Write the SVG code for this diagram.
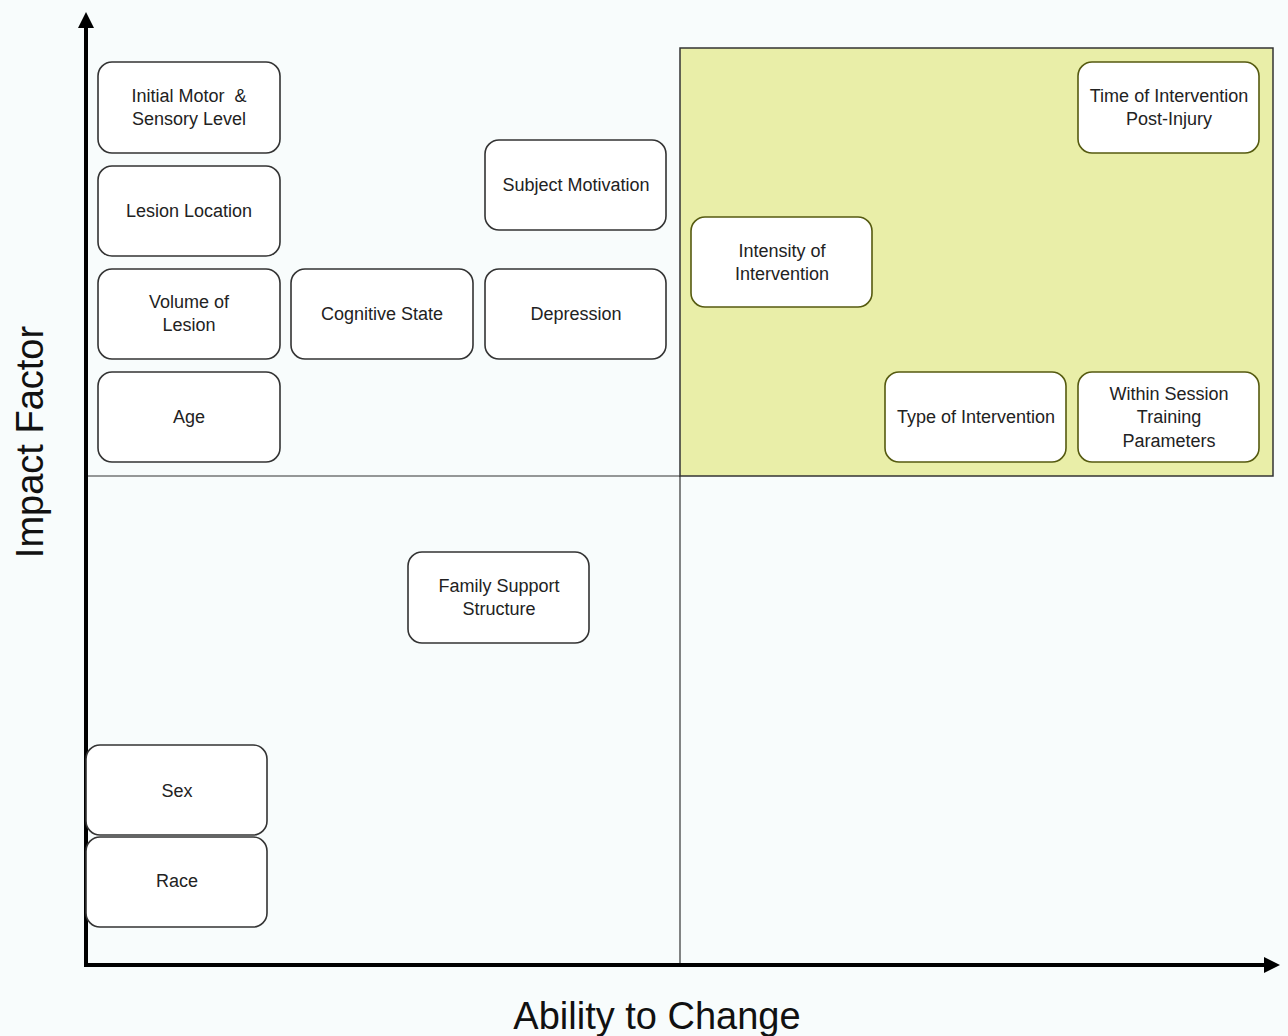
<svg xmlns="http://www.w3.org/2000/svg" width="1288" height="1036" viewBox="0 0 1288 1036">
<style>
.n rect{fill:#ffffff;stroke:#333;stroke-width:1.6}
.y rect{stroke:#555a10}
.n text{font-family:"Liberation Sans",Arial,sans-serif;font-size:18px;fill:#222;text-anchor:middle}
.ax{font-family:"Liberation Sans",Arial,sans-serif;font-size:38px;fill:#111;text-anchor:middle}
</style>
<defs>
<marker id="ah" viewBox="0 0 10 10" refX="5" refY="5" markerWidth="4" markerHeight="4" orient="auto" markerUnits="strokeWidth">
<path d="M0,0 L10,5 L0,10 z" fill="#000"/>
</marker>
</defs>
<rect width="1288" height="1036" fill="#f8fcfc"/>
<rect id="quadrant" x="680" y="48" width="593" height="428" fill="#e9eea8" stroke="#333" stroke-width="1.5"/>
<g id="connectors">
<line x1="86" y1="476" x2="680" y2="476" stroke="#333" stroke-width="1.2"/>
<line x1="680" y1="476" x2="680" y2="965" stroke="#333" stroke-width="1.2"/>
<line x1="86" y1="966" x2="86" y2="20" stroke="#000" stroke-width="4" marker-end="url(#ah)"/>
<line x1="84" y1="965" x2="1272" y2="965" stroke="#000" stroke-width="4" marker-end="url(#ah)"/>
</g>
<g id="n1" class="n"><rect x="98" y="62" width="182" height="91" rx="14"/><text x="189" y="102">Initial Motor&#160; &amp;</text><text x="189" y="125">Sensory Level</text></g>
<g id="n2" class="n"><rect x="98" y="166" width="182" height="90" rx="14"/><text x="189" y="217">Lesion Location</text></g>
<g id="n3" class="n"><rect x="98" y="269" width="182" height="90" rx="14"/><text x="189" y="308">Volume of</text><text x="189" y="331">Lesion</text></g>
<g id="n4" class="n"><rect x="98" y="372" width="182" height="90" rx="14"/><text x="189" y="423">Age</text></g>
<g id="n5" class="n"><rect x="291" y="269" width="182" height="90" rx="14"/><text x="382" y="320">Cognitive State</text></g>
<g id="n6" class="n"><rect x="485" y="140" width="181" height="90" rx="14"/><text x="576" y="191">Subject Motivation</text></g>
<g id="n7" class="n"><rect x="485" y="269" width="181" height="90" rx="14"/><text x="576" y="320">Depression</text></g>
<g id="n8" class="n"><rect x="408" y="552" width="181" height="91" rx="14"/><text x="499" y="592">Family Support</text><text x="499" y="615">Structure</text></g>
<g id="n9" class="n"><rect x="86" y="745" width="181" height="90" rx="14"/><text x="177" y="797">Sex</text></g>
<g id="n10" class="n"><rect x="86" y="837" width="181" height="90" rx="14"/><text x="177" y="887">Race</text></g>
<g id="n11" class="n y"><rect x="691" y="217" width="181" height="90" rx="14"/><text x="782" y="257">Intensity of</text><text x="782" y="280">Intervention</text></g>
<g id="n12" class="n y"><rect x="1078" y="62" width="181" height="91" rx="14"/><text x="1169" y="102">Time of Intervention</text><text x="1169" y="125">Post-Injury</text></g>
<g id="n13" class="n y"><rect x="885" y="372" width="181" height="90" rx="14"/><text x="976" y="423">Type of Intervention</text></g>
<g id="n14" class="n y"><rect x="1078" y="372" width="181" height="90" rx="14"/><text x="1169" y="400">Within Session</text><text x="1169" y="423">Training</text><text x="1169" y="447">Parameters</text></g>
<text class="ax" x="657" y="1029">Ability to Change</text>
<text class="ax" transform="translate(43,442) rotate(-90)">Impact Factor</text>
</svg>
